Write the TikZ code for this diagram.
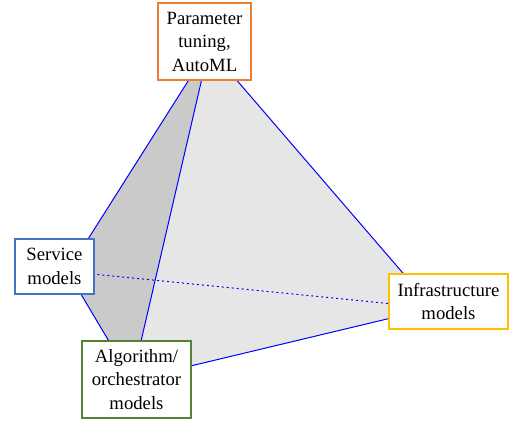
\documentclass[tikz,border=0pt]{standalone}
\usepackage{fontspec}
\setmainfont{Liberation Serif}
\definecolor{boxorange}{HTML}{ED7D31}
\definecolor{boxblue}{HTML}{4472C4}
\definecolor{boxgreen}{HTML}{548235}
\definecolor{boxyellow}{HTML}{FFC000}
\definecolor{facedark}{HTML}{CACACA}
\definecolor{facelight}{HTML}{E6E6E6}
\tikzset{
  labelbox/.style={draw, line width=2.5pt, fill=white, align=center, inner sep=0pt,
    font=\fontsize{18.7}{23.5}\selectfont},
  edgeline/.style={draw=blue, line width=1pt},
  backline/.style={draw=blue, line width=1pt, dash pattern=on 2pt off 3pt},
}
\begin{document}
\begin{tikzpicture}[x=1pt,y=-1pt]
\useasboundingbox (0,0) rectangle (511,422);
\coordinate (vA) at (209,48);
\coordinate (vS) at (67.5,271.5);
\coordinate (vG) at (132,380);
\coordinate (vI) at (433,308);
% faces
\fill[facedark] (vA) -- (vS) -- (vG) -- cycle;
\fill[facelight] (vA) -- (vG) -- (vI) -- cycle;
% edges
\draw[backline] (vS) -- (vI);
\draw[edgeline] (vA) -- (vS);
\draw[edgeline] (vA) -- (vG);
\draw[edgeline] (vA) -- (vI);
\draw[edgeline] (vS) -- (vG);
\draw[edgeline] (vG) -- (vI);
% boxes
\node[labelbox, draw=boxorange, minimum width=93pt, minimum height=77pt] (param) at (204.5,41.5) {Parameter\\tuning,\\AutoML};
\node[labelbox, draw=boxblue, minimum width=79pt, minimum height=55pt] (service) at (54.5,266.5) {Service\\models};
\node[labelbox, draw=boxgreen, minimum width=109pt, minimum height=77pt] (algo) at (136.5,379.5) {Algorithm/\\orchestrator\\models};
\node[labelbox, draw=boxyellow, minimum width=119pt, minimum height=55pt] (infra) at (448.5,301.5) {Infrastructure\\models};
\end{tikzpicture}
\end{document}
